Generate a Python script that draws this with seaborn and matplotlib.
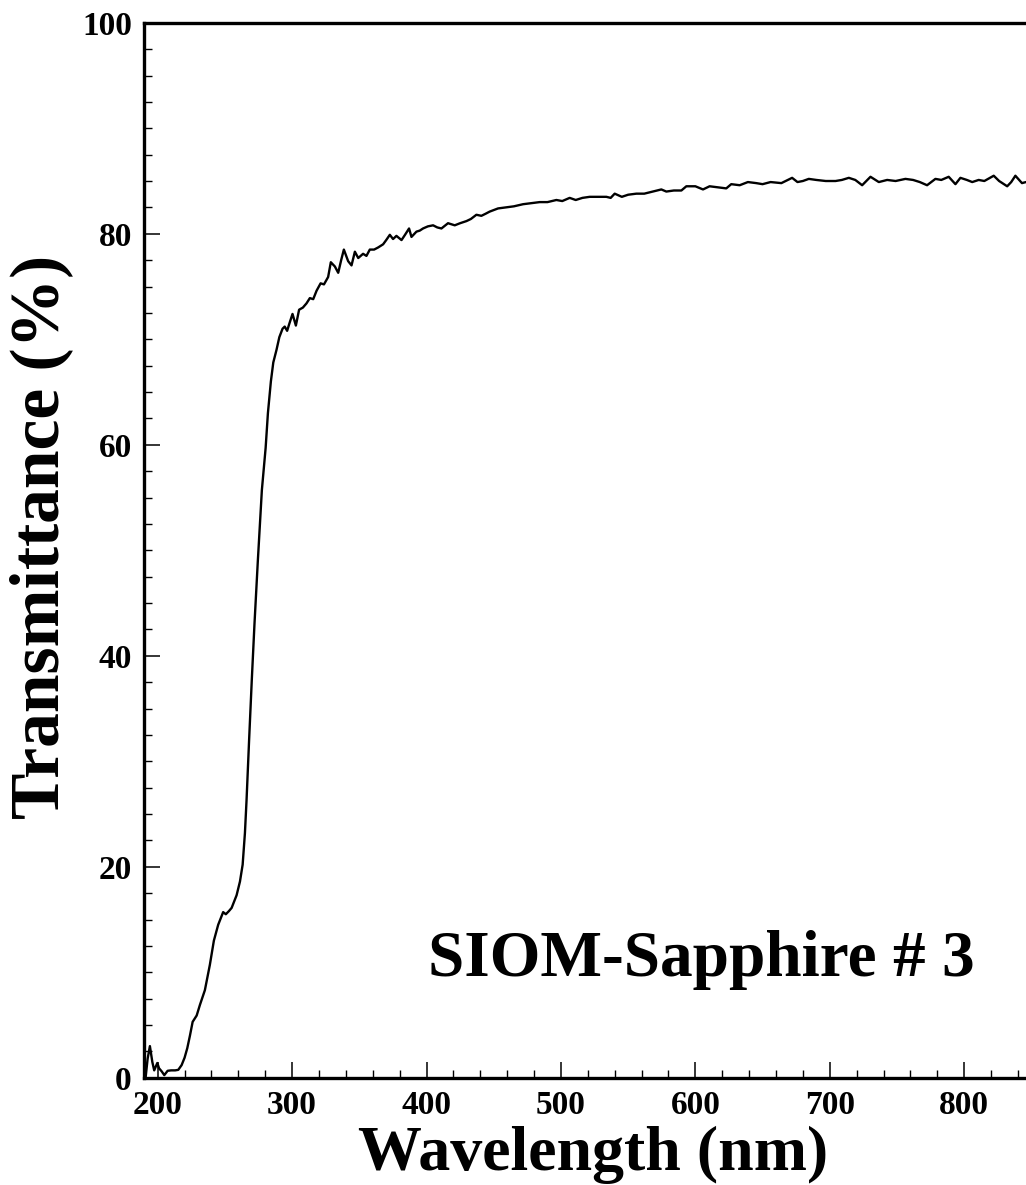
import matplotlib
matplotlib.use("Agg")
import matplotlib.pyplot as plt
from matplotlib.ticker import MultipleLocator
import seaborn as sns
import pandas as pd

wavelength = [
    191, 192.5, 194.2, 196, 197.4, 199.7, 201, 203, 204.9, 207.4,
    210, 213, 215.3, 217.8, 220, 222, 224, 226, 229, 231.4,
    233, 235.1, 238.8, 241.8, 245, 248.7, 250.7, 253, 255, 258.7,
    261.2, 263.2, 264.9, 266.1, 268, 270, 272, 274.5, 277.5, 280.3,
    282, 284.2, 286, 288.4, 290.5, 292.9, 294.5, 296.3, 298, 300.3,
    302.8, 305.2, 308, 310.7, 313.2, 315.7, 318.2, 321.2, 323.7, 326.8,
    328.8, 331.8, 334.3, 336.5, 338.5, 341.7, 344.2, 346.7, 349.2, 352.8,
    355.3, 357.8, 361, 364, 367.7, 370, 372.7, 375.1, 377.6, 381.4,
    384, 387, 388.8, 392.5, 395, 397.4, 401, 404.9, 408, 411.1,
    416, 421, 425, 429.7, 433, 437.1, 440.8, 444, 447, 453.2,
    459.4, 465, 471.8, 478, 484.2, 490, 496.6, 501, 506.5, 511,
    516, 521.4, 527, 533.8, 537, 540, 545.3, 550, 556.1, 562,
    568.5, 574.7, 578.4, 584, 589.6, 593.3, 600, 605.7, 610.6, 617,
    623, 626.7, 633, 639.1, 645.3, 650, 656, 664, 672, 676,
    680, 684.4, 690, 697, 704.3, 709, 714.2, 719, 724.1, 730.3,
    736.5, 742.7, 749, 756.3, 762, 767, 772.4, 778.6, 783, 788.5,
    793.5, 797.2, 802, 806, 810.8, 815, 822, 826, 832, 835,
    838.1, 843, 846,
]

transmittance = [
    0.0, 1.8, 3.0, 1.5, 0.7, 1.4, 0.9, 0.6, 0.25, 0.66,
    0.7, 0.7, 0.75, 1.2, 1.9, 2.8, 4.0, 5.3, 5.9, 6.9,
    7.5, 8.3, 10.7, 13.0, 14.5, 15.7, 15.5, 15.8, 16.1, 17.3,
    18.6, 20.2, 23.2, 26.3, 32.0, 37.7, 43.0, 49.0, 55.7, 59.7,
    63.0, 66.0, 67.8, 69.0, 70.2, 71.0, 71.2, 70.8, 71.5, 72.4,
    71.3, 72.8, 73.0, 73.4, 73.9, 73.8, 74.6, 75.3, 75.2, 75.9,
    77.3, 76.9, 76.3, 77.5, 78.5, 77.4, 77.0, 78.3, 77.7, 78.1,
    77.9, 78.5, 78.5, 78.7, 79.0, 79.4, 79.9, 79.5, 79.8, 79.4,
    79.9, 80.5, 79.7, 80.2, 80.3, 80.5, 80.7, 80.8, 80.6, 80.5,
    81.0, 80.8, 81.0, 81.2, 81.4, 81.8, 81.7, 81.9, 82.1, 82.4,
    82.5, 82.6, 82.8, 82.9, 83.0, 83.0, 83.2, 83.1, 83.4, 83.2,
    83.4, 83.5, 83.5, 83.5, 83.4, 83.8, 83.5, 83.7, 83.8, 83.8,
    84.0, 84.2, 84.0, 84.1, 84.1, 84.5, 84.5, 84.2, 84.5, 84.4,
    84.3, 84.7, 84.6, 84.9, 84.8, 84.7, 84.9, 84.8, 85.3, 84.9,
    85.0, 85.2, 85.1, 85.0, 85.0, 85.1, 85.3, 85.1, 84.6, 85.4,
    84.9, 85.1, 85.0, 85.2, 85.1, 84.9, 84.6, 85.2, 85.1, 85.4,
    84.7, 85.3, 85.1, 84.9, 85.1, 85.0, 85.5, 85.0, 84.5, 84.9,
    85.5, 84.8, 84.9,
]

x_ticks = [200, 300, 400, 500, 600, 700, 800]
y_ticks = [0, 20, 40, 60, 80, 100]
sample_label = "SIOM-Sapphire # 3"
x_label = "Wavelength (nm)"
y_label = "Transmittance (%)"

df = pd.DataFrame({"wl": wavelength, "T": transmittance})

sns.set_theme(style="ticks")
plt.rcParams["font.family"] = ["Liberation Serif", "DejaVu Serif"]
plt.rcParams["font.weight"] = "bold"
for key in ["text.color", "axes.labelcolor", "xtick.color", "ytick.color",
            "axes.edgecolor"]:
    plt.rcParams[key] = "black"

fig = plt.figure(figsize=(10.26, 11.85), dpi=100)
ax = fig.add_axes([0.1406, 0.0905, 0.8594, 0.8903])

sns.lineplot(data=df, x="wl", y="T", sort=False, color="black",
             linewidth=1.7, ax=ax, estimator=None)

ax.set_xlim(190, 846)
ax.set_ylim(0, 100)
ax.set_xticks(x_ticks)
ax.set_yticks(y_ticks)
ax.xaxis.set_minor_locator(MultipleLocator(20))
ax.yaxis.set_minor_locator(MultipleLocator(2.5))

for s in ["left", "bottom", "top"]:
    ax.spines[s].set_linewidth(2.4)
    ax.spines[s].set_color("black")
ax.spines["right"].set_visible(False)

ax.tick_params(axis="both", which="major", direction="in", length=11.5,
               width=1.1, colors="black", labelsize=24, pad=9)
ax.tick_params(axis="both", which="minor", direction="in", length=5.5,
               width=1.0, colors="black")
ax.tick_params(axis="y", which="both", right=False)
ax.tick_params(axis="x", which="both", top=False)
for lab in ax.get_xticklabels() + ax.get_yticklabels():
    lab.set_fontweight("bold")

ax.set_xlabel(x_label, fontsize=46, fontweight="bold", labelpad=3)
ax.set_ylabel(y_label, fontsize=50, fontweight="bold", labelpad=6)
ax.xaxis.label.set_x(0.509)
ax.yaxis.label.set_y(0.5125)

ax.text(401, 9.6, sample_label, fontsize=47, fontweight="bold",
        ha="left", va="baseline")

ax.grid(False)
fig.savefig("out.png", dpi=100, facecolor="white")
